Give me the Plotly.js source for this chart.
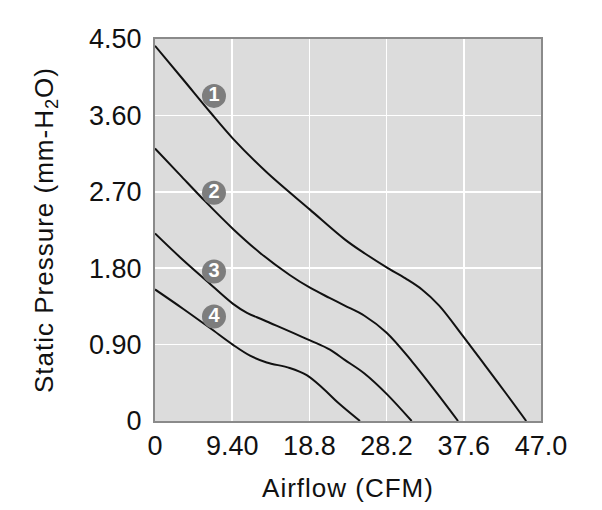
<!DOCTYPE html>
<html>
<head>
<meta charset="utf-8">
<script src="https://cdn.plot.ly/plotly-3.0.1.min.js"></script>
<style>
html,body{margin:0;padding:0;background:#fff;}
#chart{width:602px;height:510px;}
#chart .xtitle, #chart .ytitle{letter-spacing:1px;}
</style>
</head>
<body>
<div id="chart"></div>
<script>
// Curve 1
const flow1 = [0, 3.45, 6.7, 9.46, 13.6, 18.87, 23.1, 25.6, 28.2, 30.5, 32.5, 34.6, 37.5, 40.3, 42.7, 45.2];
const pres1 = [4.42, 4.02, 3.64, 3.33, 2.93, 2.49, 2.14, 1.97, 1.81, 1.68, 1.55, 1.36, 1.00, 0.64, 0.33, 0];
// Curve 2
const flow2 = [0, 3.04, 6.09, 9.53, 12.8, 16.4, 18.87, 21.25, 23.1, 25.5, 28.2, 31.3, 34.4, 36.9];
const pres2 = [3.21, 2.90, 2.59, 2.26, 1.98, 1.72, 1.57, 1.45, 1.36, 1.24, 1.04, 0.70, 0.32, 0];
// Curve 3
const flow3 = [0, 3.04, 6.3, 9.5, 11.2, 13.2, 18.87, 21.3, 23.1, 25.5, 28.2, 31.25];
const pres3 = [2.21, 1.93, 1.65, 1.38, 1.275, 1.19, 0.95, 0.84, 0.72, 0.56, 0.32, 0];
// Curve 4
const flow4 = [0, 3.45, 6.7, 9.46, 11.57, 13.6, 16.4, 18.47, 20.5, 22.3, 24.96];
const pres4 = [1.55, 1.32, 1.095, 0.90, 0.77, 0.69, 0.625, 0.54, 0.38, 0.215, 0];

// Curve labels
const labelText = ["1", "2", "3", "4"];
const labelFlow = [7.18, 7.18, 7.18, 7.18];
const labelPres = [3.83, 2.69, 1.76, 1.23];

// Axis ticks
const xTickVals = [0, 9.4, 18.8, 28.2, 37.6, 47.0];
const xTickText = ["0", "9.40", "18.8", "28.2", "37.6", "47.0"];
const yTickVals = [0, 0.9, 1.8, 2.7, 3.6, 4.5];
const yTickText = ["0", "0.90", "1.80", "2.70", "3.60", "4.50"];

const FONT = "Liberation Sans, Arial, sans-serif";
const lineStyle = {color: "#111111", width: 2, shape: "spline", smoothing: 1};

const series = [[flow1, pres1], [flow2, pres2], [flow3, pres3], [flow4, pres4]];
const traces = series.map(function (s, i) {
  return {x: s[0], y: s[1], type: "scatter", mode: "lines", line: lineStyle,
          hoverinfo: "skip", showlegend: false, name: "Curve " + (i + 1)};
});
traces.push({
  x: labelFlow, y: labelPres, text: labelText, type: "scatter", mode: "markers+text",
  marker: {size: 24, color: "#7d7d7d"},
  textposition: "middle center",
  textfont: {family: FONT, size: 20, color: "#ffffff", weight: "bold"},
  hoverinfo: "skip", showlegend: false, cliponaxis: false
});

const layout = {
  width: 602, height: 510,
  margin: {l: 155, r: 61, t: 39, b: 89, pad: 0},
  paper_bgcolor: "#ffffff",
  plot_bgcolor: "#dcdcdc",
  font: {family: FONT, size: 26, color: "#111111"},
  xaxis: {
    range: [0, 47], autorange: false,
    tickmode: "array", tickvals: xTickVals, ticktext: xTickText,
    showgrid: true, gridcolor: "#ffffff", gridwidth: 1.5,
    zeroline: false, showline: true, mirror: true, linecolor: "#8a8a8a", linewidth: 2,
    ticks: "", ticklabelstandoff: 0,
    tickfont: {family: FONT, size: 27, color: "#111111"},
    title: {text: "Airflow (CFM)", font: {family: FONT, size: 26, color: "#111111"}, standoff: 18}
  },
  yaxis: {
    range: [0, 4.5], autorange: false,
    tickmode: "array", tickvals: yTickVals, ticktext: yTickText,
    showgrid: true, gridcolor: "#ffffff", gridwidth: 1.5,
    zeroline: false, showline: true, mirror: true, linecolor: "#8a8a8a", linewidth: 2,
    ticks: "", ticklabelstandoff: 6,
    tickfont: {family: FONT, size: 27, color: "#111111"},
    title: {text: "Static Pressure (mm-H<sub>2</sub>O)", font: {family: FONT, size: 26, color: "#111111"}, standoff: 28}
  }
};

Plotly.newPlot("chart", traces, layout, {staticPlot: true, displayModeBar: false});
</script>
</body>
</html>
